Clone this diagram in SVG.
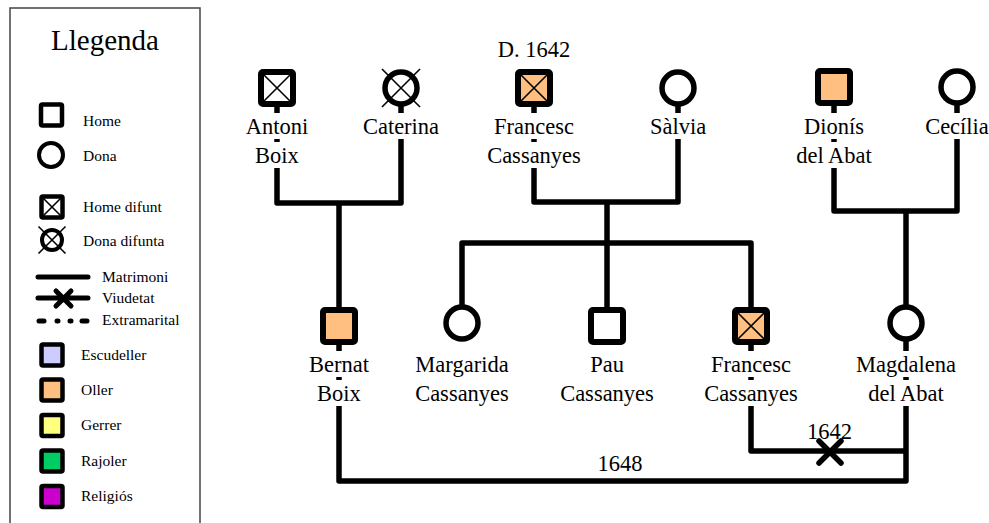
<svg xmlns="http://www.w3.org/2000/svg" width="989" height="523" viewBox="0 0 989 523" font-family="Liberation Serif">
<style>
.lbl{font-size:22.5px;fill:#000;text-anchor:middle}
.leg{font-size:15.5px;fill:#000}
.ttl{font-size:29px;fill:#000;text-anchor:middle}
.sq{stroke:#000;stroke-width:6;fill:#fff}
.ci{stroke:#000;stroke-width:5.5;fill:#fff}
.lsq{stroke:#000;stroke-width:4.5;fill:#fff}
.lci{stroke:#000;stroke-width:4;fill:#fff}
.x{stroke:#000;stroke-width:1.6;fill:none}
.bg{fill:#fff}
.con{stroke:#000;stroke-width:5.5;fill:none;stroke-linejoin:round}
</style>

<g id="legend" font-family="Liberation Serif">
<rect x="10" y="8" width="190" height="530" fill="#fff" stroke="#444" stroke-width="1.5"/>
<text class="ttl" x="105" y="50" font-family="Liberation Serif">Llegenda</text>
<rect class="lsq" x="41" y="104.5" width="21" height="21" rx="1.5"/>
<text class="leg" x="83" y="126" font-family="Liberation Serif">Home</text>
<circle class="lci" cx="51" cy="155" r="12"/>
<text class="leg" x="83" y="161" font-family="Liberation Serif">Dona</text>
<rect class="lsq" x="41.5" y="196.5" width="21" height="21" rx="1.5"/>
<path class="x" d="M43,198 L61,216 M61,198 L43,216"/>
<text class="leg" x="83" y="212" font-family="Liberation Serif">Home difunt</text>
<circle class="lci" cx="52" cy="240" r="10"/>
<path class="x" d="M38.5,226.5 L65.5,253.5 M65.5,226.5 L38.5,253.5"/>
<text class="leg" x="83" y="246" font-family="Liberation Serif">Dona difunta</text>
<path d="M38,277 H88" stroke="#000" stroke-width="5" stroke-linecap="round"/>
<text class="leg" x="102" y="282" font-family="Liberation Serif">Matrimoni</text>
<path d="M38,298 H88 M56,291 L71,306 M71,291 L56,306" stroke="#000" stroke-width="5" stroke-linecap="round"/>
<text class="leg" x="102" y="303" font-family="Liberation Serif">Viudetat</text>
<path d="M39,321 H44 M57,321 H58 M70,321 H71 M82,321 H87" stroke="#000" stroke-width="5" stroke-linecap="round"/>
<text class="leg" x="102" y="325" font-family="Liberation Serif">Extramarital</text>
<rect class="lsq" x="41.5" y="344.5" width="21" height="21" rx="1.5" style="fill:#CCCCFF"/>
<text class="leg" x="81" y="360" font-family="Liberation Serif">Escudeller</text>
<rect class="lsq" x="41.5" y="379.5" width="21" height="21" rx="1.5" style="fill:#FFBF80"/>
<text class="leg" x="81" y="395" font-family="Liberation Serif">Oller</text>
<rect class="lsq" x="41.5" y="415" width="21" height="21" rx="1.5" style="fill:#FFFF80"/>
<text class="leg" x="81" y="430" font-family="Liberation Serif">Gerrer</text>
<rect class="lsq" x="41.5" y="450.5" width="21" height="21" rx="1.5" style="fill:#00CC66"/>
<text class="leg" x="81" y="466" font-family="Liberation Serif">Rajoler</text>
<rect class="lsq" x="41.5" y="486" width="21" height="21" rx="1.5" style="fill:#CC00CC"/>
<text class="leg" x="81" y="501" font-family="Liberation Serif">Religiós</text>
</g>

<g id="connectors" font-family="Liberation Serif">
<path class="con" d="M277,88 V203 H401 V88"/>
<path class="con" d="M339,203 V326"/>
<path class="con" d="M534,88 V202 H678 V88"/>
<path class="con" d="M607,202 V243"/>
<path class="con" d="M462,323 V243 H751 V326"/>
<path class="con" d="M607,243 V326"/>
<path class="con" d="M834,87 V211 H957 V87"/>
<path class="con" d="M906,211 V323"/>
<path class="con" d="M751,326 V451 H906"/>
<path d="M819,441 L841,463 M841,441 L819,463" stroke="#000" stroke-width="5.5" stroke-linecap="round"/>
<text class="lbl" x="829.5" y="439" font-family="Liberation Serif">1642</text>
<path class="con" d="M339,326 V481 H906 V323"/>
<text class="lbl" x="620" y="471" font-family="Liberation Serif">1648</text>
</g>

<g id="antoni-boix" font-family="Liberation Serif">
<rect class="sq" x="261" y="72" width="32" height="32" rx="2"/>
<path class="x" d="M264,75 L290,101 M290,75 L264,101"/>
<rect class="bg" x="242" y="113" width="70" height="26"/>
<rect class="bg" x="252" y="142" width="50" height="26"/>
<text class="lbl" x="277" y="134" font-family="Liberation Serif">Antoni</text>
<text class="lbl" x="277" y="163" font-family="Liberation Serif">Boix</text>
</g>

<g id="caterina" font-family="Liberation Serif">
<circle class="ci" cx="401" cy="88" r="16"/>
<path class="x" d="M382,69 L420,107 M420,69 L382,107"/>
<rect class="bg" x="361" y="113" width="80" height="26"/>
<text class="lbl" x="401" y="134" font-family="Liberation Serif">Caterina</text>
</g>

<g id="francesc-cassanyes-pare" font-family="Liberation Serif">
<text class="lbl" x="534" y="57" font-family="Liberation Serif">D. 1642</text>
<rect class="sq" x="518" y="72" width="32" height="32" rx="2" style="fill:#FFBF80"/>
<path class="x" d="M521,75 L547,101 M547,75 L521,101"/>
<rect class="bg" x="494" y="113" width="80" height="26"/>
<rect class="bg" x="487" y="142" width="94" height="26"/>
<text class="lbl" x="534" y="134" font-family="Liberation Serif">Francesc</text>
<text class="lbl" x="534" y="163" font-family="Liberation Serif">Cassanyes</text>
</g>

<g id="salvia" font-family="Liberation Serif">
<circle class="ci" cx="678" cy="88" r="16"/>
<rect class="bg" x="648" y="113" width="60" height="26"/>
<text class="lbl" x="678" y="134" font-family="Liberation Serif">Sàlvia</text>
</g>

<g id="dionis-del-abat" font-family="Liberation Serif">
<rect class="sq" x="818" y="71" width="32" height="32" rx="2" style="fill:#FFBF80"/>
<rect class="bg" x="800" y="113" width="68" height="26"/>
<rect class="bg" x="794" y="142" width="80" height="26"/>
<text class="lbl" x="834" y="134" font-family="Liberation Serif">Dionís</text>
<text class="lbl" x="834" y="163" font-family="Liberation Serif">del Abat</text>
</g>

<g id="cecilia" font-family="Liberation Serif">
<circle class="ci" cx="957" cy="87" r="16"/>
<rect class="bg" x="926" y="113" width="62" height="26"/>
<text class="lbl" x="957" y="134" font-family="Liberation Serif">Cecília</text>
</g>

<g id="bernat-boix" font-family="Liberation Serif">
<rect class="sq" x="323" y="310" width="32" height="32" rx="2" style="fill:#FFBF80"/>
<rect class="bg" x="307" y="351" width="64" height="26"/>
<rect class="bg" x="314" y="380" width="50" height="26"/>
<text class="lbl" x="339" y="372" font-family="Liberation Serif">Bernat</text>
<text class="lbl" x="339" y="401" font-family="Liberation Serif">Boix</text>
</g>

<g id="margarida-cassanyes" font-family="Liberation Serif">
<circle class="ci" cx="462" cy="323" r="16"/>
<text class="lbl" x="462" y="372" font-family="Liberation Serif">Margarida</text>
<text class="lbl" x="462" y="401" font-family="Liberation Serif">Cassanyes</text>
</g>

<g id="pau-cassanyes" font-family="Liberation Serif">
<rect class="sq" x="591" y="310" width="32" height="32" rx="2"/>
<text class="lbl" x="607" y="372" font-family="Liberation Serif">Pau</text>
<text class="lbl" x="607" y="401" font-family="Liberation Serif">Cassanyes</text>
</g>

<g id="francesc-cassanyes-fill" font-family="Liberation Serif">
<rect class="sq" x="735" y="310" width="32" height="32" rx="2" style="fill:#FFBF80"/>
<path class="x" d="M738,313 L764,339 M764,313 L738,339"/>
<rect class="bg" x="711" y="351" width="80" height="26"/>
<rect class="bg" x="704" y="380" width="94" height="26"/>
<text class="lbl" x="751" y="372" font-family="Liberation Serif">Francesc</text>
<text class="lbl" x="751" y="401" font-family="Liberation Serif">Cassanyes</text>
</g>

<g id="magdalena-del-abat" font-family="Liberation Serif">
<circle class="ci" cx="906" cy="323" r="16"/>
<rect class="bg" x="856" y="351" width="100" height="26"/>
<rect class="bg" x="866" y="380" width="80" height="26"/>
<text class="lbl" x="906" y="372" font-family="Liberation Serif">Magdalena</text>
<text class="lbl" x="906" y="401" font-family="Liberation Serif">del Abat</text>
</g>
</svg>
